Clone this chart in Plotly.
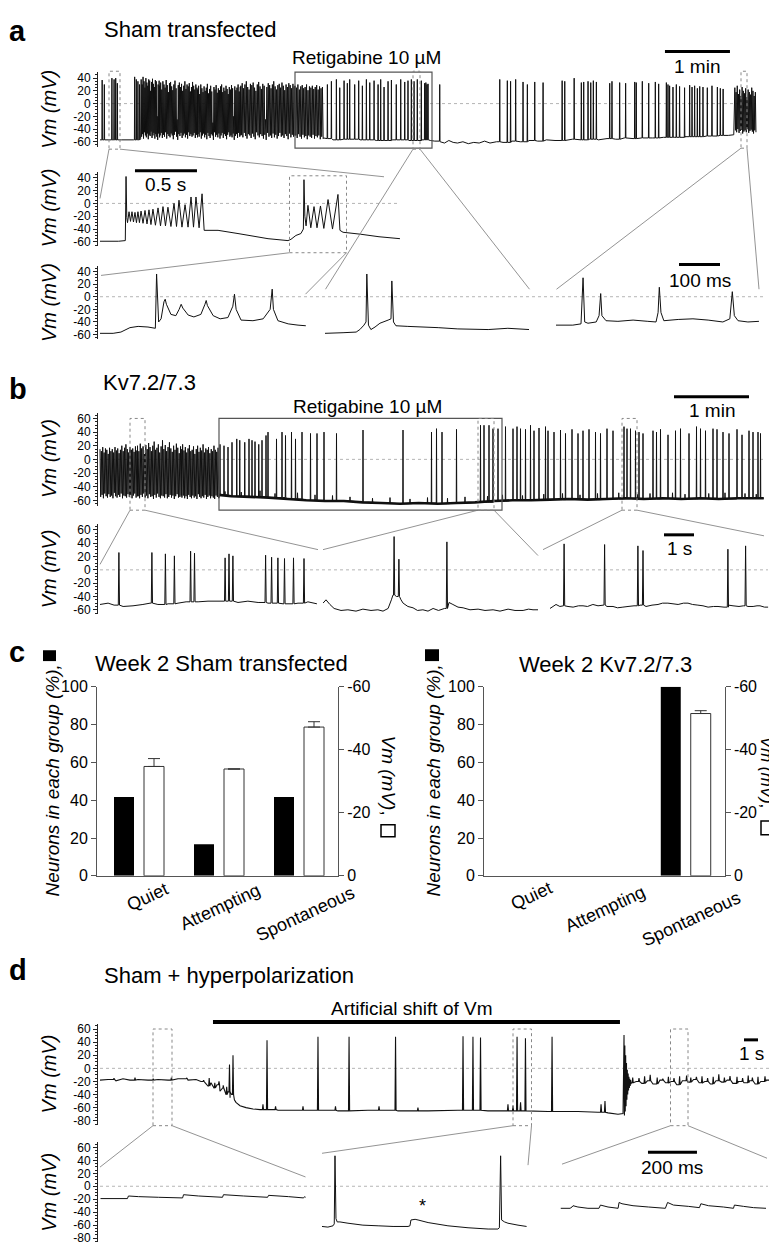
import numpy as np
import plotly.graph_objects as go

W, H = 777, 1248
FONT = "Liberation Sans, Arial, Helvetica, sans-serif"
NARROW = "Liberation Sans Narrow, Arial Narrow, Liberation Sans, Arial, sans-serif"

# =============================== DATA =====================================
# ---- (a) top trace: Sham transfected, time [s], Vm [mV]
A1_baseline = [(0, -57), (20, -57), (31, -57), (37.5, -55), (206, -55), (215, -57), (225, -56),
               (240, -57), (255, -58), (270, -57), (285, -58), (297, -57), (305, -58), (309, -59),
               (314, -60), (318, -62), (322, -58), (326, -61), (330, -62), (335, -60), (340, -63),
               (345, -61), (350, -62), (355, -59), (360, -62), (366, -60), (372, -61), (380, -59),
               (388, -60), (396, -58), (404, -59), (412, -57), (420, -58), (428, -58), (436, -56),
               (444, -57), (452, -56), (460, -57), (468, -55), (476, -56), (484, -54), (492, -55),
               (500, -54), (510, -54), (520, -53), (530, -53), (540, -52), (550, -52), (560, -51),
               (570, -50), (580, -50), (585, -49)]
A1_spikes_early = [(2, 37), (4, 30), (11, 40), (13, 38), (14.5, 40), (16, 32),
                   (32, 42), (33.5, 38), (35, 35), (36.5, 30)]
A1_spikes_retig = [(209.9, 30), (213.6, 35), (218.2, 38), (221.3, 25), (225.3, 36), (228.3, 32),
                   (230.5, 38), (235.1, 30), (238.8, 36), (242.2, 28), (245.9, 38), (249, 33),
                   (253, 36), (256.7, 30), (259.1, 38), (262.2, 26), (265.9, 35), (269, 37),
                   (273.5, 30), (277.6, 38), (281.3, 34), (284.3, 36), (287.4, 38), (289.9, 35),
                   (292.9, 38), (296.6, 36), (299.7, 32), (300.8, 33), (301.8, 30), (302.8, 31),
                   (313.6, 30)]
A1_spikes_late = [(369, 38), (376, 36), (379, 35), (383.7, 38), (390.5, 34), (394.5, 30),
                  (401.3, 34), (409, 33), (426.6, 36), (429, 35), (437.7, 40), (444.3, 33),
                  (446.5, 34), (450.5, 35), (453, 33), (455.4, 36), (458.2, 34), (470.5, 32),
                  (472.6, 35), (479.7, 33), (485.2, 32), (493.6, 34), (495, 33), (500.6, 35),
                  (506.5, 32), (512.6, 34), (515.7, 31), (522.8, 33), (524.3, 30), (525.8, 28),
                  (528.9, 26), (532, 30), (535, 27), (539.6, 25), (544.3, 29), (546.5, 26),
                  (548.9, 28), (551.4, 24), (553.6, 27), (556.6, 26), (560.6, 25), (564.9, 28),
                  (569.9, 26), (572.6, 24), (575.2, 23)]
A1_burst_spans = [(38, 55), (55, 90), (90, 130), (130, 180), (180, 206), (586, 605.5)]
A1_peaks_1 = [38, 30, 42, 35, 25, 40, 33, 28, 38, 36, 20, 34, 39, 31, 26, 37, 35, -20, 30, 36]
A1_troughs_1 = [-52, -48, -55, -45, -50, -53, -47, -56, -49, -51, -44, -54, -50, -46, -55, -48, -52, -57, -47, -53]
A1_peaks_2 = [28, 33, 22, 35, 30, 25, 37, 29, 18, 32, 34, 27, 21, 30, 36, 24, -25, 29, 33, 26,
              31, 20, 28, 35, 23, 30, 27, 32, 19, 26, 34, 28, 22, 30, 25]
A1_troughs_2 = [-50, -46, -54, -49, -52, -45, -55, -48, -51, -53, -47, -50, -56, -49, -44, -52, -57, -48, -51, -46,
                -54, -50, -47, -53, -49, -55, -45, -51, -48, -52, -50, -46, -54, -49, -53]
A1_peaks_3 = [22, 28, 15, 30, 24, 18, 27, 20, 25, 31, 16, 23, 28, 19, -30, 26, 22, 29, 17, 24,
              21, 27, 30, 18, 25, 20, 28, 23, 15, 26, 22, 29, 24, -20, 27, 21, 25, 30, 19, 26]
A1_troughs_3 = [-48, -52, -45, -55, -50, -47, -53, -49, -56, -46, -51, -54, -48, -50, -57, -45, -52, -49, -53, -47,
                -55, -50, -46, -54, -48, -51, -56, -49, -45, -52, -50, -53, -47, -57, -51, -48, -54, -46, -52, -50]
A1_peaks_4 = [28, 32, 24, 30, 35, 26, 22, 31, 29, 33, 25, 20, 30, 34, 27, 23, 31, 28, -25, 26,
              32, 29, 24, 30, 35, 27, 22, 29, 31, 25, 33, 28, 21, 30, 26, 32, 29, 24, 31, 27]
A1_troughs_4 = [-49, -53, -46, -51, -55, -48, -50, -54, -47, -52, -56, -45, -50, -53, -48, -51, -55, -49, -57, -46,
                -52, -50, -54, -47, -53, -49, -55, -51, -46, -52, -50, -54, -48, -51, -56, -47, -53, -49, -52, -50]
A1_peaks_5 = [28, 25, 30, 22, 27, 29, 24, 26, 30, 21, 27, 25, 28, 23, 26, 29, 22, 27, 24, 26]
A1_troughs_5 = [-50, -54, -48, -52, -55, -49, -53, -51, -56, -50, -52, -54, -49, -55, -51, -53, -50, -56, -52, -54]
A1_peaks_6 = [25, 18, 28, 15, 22, 12, 26, 20, 16, 24, 10, 22, 18, 14, 25, 20, 12, 18]
A1_troughs_6 = [-42, -45, -40, -46, -43, -41, -47, -44, -42, -45, -40, -46, -43, -41, -44, -47, -42, -45]

# ---- (a) middle trace, time [ms]
A2_points = [(0, -59), (150, -59), (204, -58), (210, 42), (216, -22), (222, -30), (234, -13), (246, -28),
             (258, -13), (270, -29), (282, -14), (294, -30), (306, -13), (318, -30), (331, -12), (347, -31),
             (363, -11), (379, -32), (395, -10), (411, -33), (427, -9), (447, -34), (468, -7), (488, -35),
             (508, -5), (528, -35), (548, -6), (572, -36), (597, 0), (617, -36), (637, 5), (661, -37),
             (686, -2), (710, -37), (734, 10), (754, -37), (774, 10), (799, -38), (823, 15), (840, -42),
             (952, -42), (1113, -47), (1355, -55), (1516, -58), (1540, -56), (1580, -50), (1620, -47),
             (1640, -40), (1645, 37), (1652, -20), (1662, -35), (1677, -3), (1700, -38), (1726, -5),
             (1750, -38), (1778, -4), (1805, -39), (1839, 6), (1875, -40), (1919, 14), (1935, -42),
             (1960, -45), (2100, -48), (2250, -52), (2419, -55)]

# ---- (a) bottom traces, three 500 ms windows, time [ms]
A3_seg1 = [(0, -58), (32, -58), (51, -56), (73, -49), (93, -47), (117, -48), (135, -50), (138, 36),
           (143, -40), (149, -35), (156, -8), (159, -4), (162, -12), (173, -28), (185, -30), (193, -20),
           (198, -12), (202, -18), (215, -29), (229, -32), (246, -28), (256, -12), (259, -6), (262, -14),
           (276, -30), (293, -35), (312, -33), (324, -15), (328, 4), (332, -20), (344, -37), (373, -38),
           (398, -35), (415, -20), (420, 12), (423, -20), (434, -38), (459, -43), (483, -45), (502, -46)]
A3_seg2 = [(0, -58), (44, -57), (76, -56), (85, -52), (95, -45), (100, -40), (102, 36), (106, -45),
           (112, -52), (122, -48), (134, -42), (154, -37), (161, -35), (163, 25), (167, -40), (173, -46),
           (202, -47), (276, -49), (324, -51), (398, -52), (446, -50), (498, -52)]
A3_seg3 = [(0, -45), (41, -45), (61, -43), (66, 30), (70, -40), (78, -42), (98, -40), (105, -30),
           (109, 5), (112, -30), (122, -38), (151, -39), (188, -37), (224, -39), (244, -40), (249, -25),
           (252, 15), (256, -25), (263, -38), (298, -36), (334, -35), (371, -37), (407, -40), (424, -35),
           (430, 8), (435, -30), (444, -38), (468, -40), (495, -39)]

# ---- (b) top trace: Kv7.2/7.3, time [s]
B1_baseline = [(95, -52), (105, -54), (120, -55), (135, -56), (150, -58), (165, -60), (180, -61),
               (195, -61), (210, -63), (225, -64), (240, -65), (255, -64), (270, -65), (285, -64),
               (300, -63), (315, -61), (330, -60), (345, -60), (360, -59), (375, -58), (390, -59),
               (405, -58), (420, -57), (435, -58), (450, -57), (465, -58), (480, -57), (495, -58),
               (510, -57), (531, -57)]
B1_spikes = [(96, 22), (99.2, 20), (102.4, 18), (105.6, 25), (109.4, 30), (111.8, 28), (115.8, 25),
             (119.2, 30), (121.6, 28), (124, 26), (127, 22), (129.6, 28), (132.8, 35), (134.4, 40),
             (141.2, 30), (145.6, 40), (148.4, 35), (153.2, 40), (156.4, 30), (161.6, 40), (168.4, 38),
             (173.6, 38), (179.2, 40), (189.2, 38), (210.4, 43), (242.4, 43), (265.2, 40), (269.2, 45),
             (273.6, 40), (285.2, 44), (304.4, 50), (307.2, 50), (311.2, 50), (314.4, 45), (318.4, 45),
             (324.4, 48), (330.4, 45), (333.6, 48), (336.4, 45), (340.4, 44), (344.4, 50), (347.2, 42),
             (351.2, 46), (356.4, 48), (358.4, 42), (363.2, 40), (368.4, 43), (372.4, 38), (377.6, 44),
             (382.4, 38), (386.4, 42), (391.2, 44), (396.4, 40), (400.4, 38), (405.6, 45), (410.4, 42),
             (419.2, 48), (421.6, 45), (424.4, 45), (428.4, 42), (431.2, 40), (434.4, 38), (442.4, 42),
             (445.2, 40), (448.4, 44), (454.4, 36), (460.4, 42), (464.4, 45), (471.2, 38), (477.2, 48),
             (480.4, 45), (484.4, 42), (490.4, 45), (493.6, 44), (498.4, 40), (503.2, 38), (509.6, 44),
             (513.6, 36), (519.2, 42), (522.4, 40), (526.4, 40), (528.4, 38)]
B1_bumps = [(100, -47), (113, -48), (128, -46), (140, -50), (158, -49), (172, -52), (186, -53),
            (200, -55), (218, -57), (232, -56), (248, -58), (262, -56), (278, -57), (292, -55),
            (310, -54), (322, -52), (338, -53), (355, -51), (370, -50), (384, -52), (398, -50),
            (415, -49), (430, -51), (440, -50), (458, -49), (468, -51), (487, -50), (500, -49),
            (516, -50), (525, -51)]
B1_burst_spans = [(0, 30), (30, 65), (65, 95)]
B1_peaks_1 = [15, 12, 18, 10, 16, 14, 8, 17, 12, 15, 10, 18, 13, 16, 9, 14, 20, 12, 17, 22,
              15, 10, 18, 14, 16, 11, 19, 13]
B1_troughs_1 = [-55, -52, -57, -50, -54, -56, -51, -55, -53, -57, -49, -54, -56, -52, -55, -50, -57, -53, -54, -56,
                -51, -55, -52, -57, -53, -50, -56, -54]
B1_peaks_2 = [20, 12, 23, 16, 19, 8, 21, 15, 24, 18, 12, 20, 26, 14, 17, 22, 10, 19, 28, 15,
              21, 12, 18, 25, 16, 11, 20, 14, 23, 17, 9, 19]
B1_troughs_2 = [-54, -57, -52, -55, -50, -56, -53, -57, -51, -55, -54, -58, -52, -56, -50, -55, -57, -53, -54, -56,
                -51, -57, -55, -52, -56, -53, -58, -54, -51, -56, -55, -53]
B1_peaks_3 = [15, 22, 13, 18, 10, 16, 21, 12, 14, 19, 8, 15, 20, 11, 17, 13, 22, 10, 16, 14,
              18, 9, 15, 12, 20, 14, 11, 17]
B1_troughs_3 = [-56, -53, -57, -54, -58, -52, -55, -57, -53, -56, -54, -58, -51, -55, -57, -54, -56, -52, -58, -55,
                -53, -57, -54, -56, -58, -53, -55, -57]

# ---- (b) bottom traces, three windows, time [s]
B2_seg1_base = [(0, -52), (0.27, -50), (0.47, -53), (0.77, -55), (1.1, -54), (1.43, -52), (1.67, -50),
                (1.93, -52), (2.27, -51), (2.6, -50), (2.87, -48), (3.27, -48), (3.6, -47), (4.0, -47),
                (4.6, -49), (4.93, -47), (5.27, -49), (5.6, -50), (6.1, -51), (6.6, -50), (6.93, -48),
                (7.23, -51)]
B2_seg1_spikes = [(0.63, 26), (1.73, 26), (2.18, 24), (2.48, 21), (3.02, 28), (3.15, 25), (4.17, 18),
                  (4.3, 24), (4.43, 21), (5.52, 22), (5.72, 19), (5.93, 18), (6.15, 17), (6.45, 18), (6.8, 17)]
B2_seg2_base = [(0, -50), (0.1, -45), (0.23, -52), (0.37, -58), (0.6, -61), (0.83, -60), (1.1, -62),
                (1.33, -59), (1.6, -61), (1.83, -60), (2.0, -62), (2.17, -58), (2.28, -45), (2.33, -38),
                (2.45, -40), (2.6, -45), (2.67, -50), (2.83, -55), (3.0, -57), (3.15, -61), (3.33, -60),
                (3.5, -62), (3.67, -58), (3.85, -61), (4.05, -58), (4.2, -49), (4.33, -52), (4.5, -56),
                (4.67, -57), (4.9, -60), (5.17, -59), (5.4, -61), (5.67, -60), (5.9, -62), (6.17, -59),
                (6.4, -61), (6.67, -61), (6.85, -59), (7.0, -60), (7.17, -60)]
B2_seg2_spikes = [(2.37, 50), (2.53, 16), (4.13, 42)]
B2_seg3_base = [(0, -58), (0.1, -55), (0.2, -52), (0.33, -55), (0.45, -54), (0.6, -55), (0.77, -56),
                (0.95, -54), (1.1, -54), (1.25, -55), (1.43, -52), (1.6, -54), (1.78, -53), (1.9, -55),
                (2.1, -55), (2.25, -57), (2.43, -56), (2.6, -55), (2.8, -54), (3.0, -53), (3.2, -55),
                (3.4, -53), (3.6, -52), (3.75, -50), (3.93, -50), (4.1, -51), (4.27, -52), (4.45, -50),
                (4.6, -50), (4.75, -52), (4.93, -53), (5.1, -54), (5.27, -56), (5.45, -55), (5.6, -55),
                (5.8, -56), (5.95, -53), (6.1, -54), (6.3, -55), (6.45, -54), (6.6, -55), (6.77, -55),
                (6.9, -54), (7.0, -54), (7.15, -56), (7.27, -56)]
B2_seg3_spikes = [(0.47, 39), (1.82, 38), (2.93, 36), (3.1, 29), (5.93, 31), (6.52, 36)]

# ---- (c) bar charts
categories = ["Quiet", "Attempting", "Spontaneous"]
sham_pct = [41.7, 16.7, 41.7]
sham_vm = [-34.7, -33.9, -47.2]
sham_vm_err = [2.5, 0.0, 1.7]
kv_pct = [0.0, 0.0, 100.0]
kv_vm = [None, None, -51.5]
kv_vm_err = [0.0, 0.0, 0.9]
pct_ticks = [0, 20, 40, 60, 80, 100]
pct_ticklabels = ["0", "20", "40", "60", "80", "100"]
vm_bar_ticks = [0, -20, -40, -60]
vm_bar_ticklabels = ["0", "-20", "-40", "-60"]

# ---- (d) top trace: Sham + hyperpolarization, time [s]
D1_baseline = [(0, -18), (0.57, -17), (1.14, -19), (1.64, -16), (2.14, -18), (2.71, -17), (3.43, -18),
               (4.14, -17), (4.86, -18), (5.57, -16), (6.29, -18), (6.86, -17), (7.21, -20), (7.5, -22),
               (7.71, -27), (7.93, -22), (8.14, -30), (8.36, -25), (8.57, -35), (8.79, -30), (9.0, -40),
               (9.14, -36), (9.29, -45), (9.4, -40), (9.6, -48), (9.71, -52), (10, -57), (10.43, -60),
               (10.93, -62), (11.43, -63), (12.71, -64), (14.86, -64), (17, -65), (19.14, -64),
               (21.29, -65), (23.43, -65), (25.57, -64), (27.71, -65), (29.86, -65), (32, -66),
               (34.14, -66), (35.57, -67), (36.29, -68), (37, -70), (37.36, -69),
               (37.95, -22), (38.3, -20), (38.7, -23), (39.1, -19), (39.5, -24), (40, -18), (40.4, -22),
               (40.8, -20), (41.2, -25), (41.6, -19), (42, -21), (42.4, -17), (42.8, -22), (43.2, -20),
               (43.6, -24), (44, -19), (44.4, -21), (44.8, -18), (45.2, -23), (45.6, -20), (46, -22),
               (46.4, -19), (46.8, -24), (47.2, -20), (47.6, -18), (48, -23), (48.4, -20), (48.86, -21)]
D1_spikes = [(9.25, 6), (9.5, 20), (11.93, 43), (15.57, 48), (17.79, 48), (21.11, 48), (25.93, 49),
             (26.64, 48), (27.18, 47), (29.79, 48), (30.39, 46), (32.29, 48)]
D1_bumps = [(1.0, -15), (2.5, -14), (3.8, -16), (5.1, -14), (6.2, -15), (7.4, -18), (7.8, -15),
            (8.2, -22), (8.5, -20), (8.8, -26), (9.05, -28),
            (11.64, -55), (12.54, -58), (14.5, -58), (16.82, -58), (19.93, -58), (22.71, -60),
            (29.14, -55), (29.5, -57), (30.04, -52), (35.79, -55), (36.07, -50),
            (38.05, -14), (38.5, -15), (38.9, -12), (39.3, -10), (39.8, -14), (40.2, -16), (40.6, -13),
            (41.0, -15), (41.4, -12), (41.9, -11), (42.2, -14), (42.6, -13), (43.0, -12), (43.4, -15),
            (43.8, -13), (44.2, -9), (44.6, -14), (45.0, -12), (45.5, -13), (45.9, -15), (46.3, -11),
            (46.6, -14), (47.0, -13), (47.5, -12), (47.9, -14), (48.2, -12), (48.5, -8)]
D1_ring_span = (37.43, 37.93)
D1_ring_peaks = [51, 35, 20, 8, -2, -8, -13, -16, -18]
D1_ring_troughs = [-72, -66, -58, -48, -40, -34, -30, -27, -24]

# ---- (d) bottom traces, three windows, time [ms]
D2_seg1 = [(0, -19), (51, -19), (110, -19), (114, -15), (155, -16), (237, -17), (335, -18), (339, -13),
           (400, -15), (498, -17), (502, -13), (584, -15), (682, -17), (686, -14), (767, -16),
           (829, -18), (833, -16), (837, -17)]
D2_seg2 = [(0, -62), (24, -63), (45, -61), (50, -58), (53, 47), (57, -50), (62, -55), (73, -55),
           (106, -57), (167, -60), (229, -61), (290, -62), (351, -62), (359, -61), (363, -52),
           (380, -51), (392, -52), (433, -56), (514, -61), (596, -64), (678, -66), (718, -66),
           (724, -64), (729, 47), (733, -52), (745, -55), (759, -57), (800, -60), (835, -62)]
D2_seg3 = [(0, -34), (39, -34), (47, -32), (51, -30), (71, -32), (112, -34), (157, -34), (163, -29),
           (194, -32), (235, -34), (239, -25), (251, -27), (296, -30), (359, -32), (428, -34),
           (437, -25), (461, -29), (522, -31), (567, -33), (573, -27), (604, -30), (665, -32),
           (706, -34), (710, -29), (747, -31), (788, -33), (839, -34)]

# tick labels for the Vm axes of the traces
A_ticks = [-60, -40, -20, 0, 20, 40]
A_ticklabels = ["-60", "-40", "-20", "0", "20", "40"]
B_ticks = [-60, -40, -20, 0, 20, 40, 60]
B_ticklabels = ["-60", "-40", "-20", "0", "20", "40", "60"]
D_ticks = [-80, -60, -40, -20, 0, 20, 40, 60]
D_ticklabels = ["-80", "-60", "-40", "-20", "0", "20", "40", "60"]


# =============================== HELPERS ==================================
def fx(px):
    return px / W


def fy(py):
    return 1 - py / H


def build(baseline, spikes=(), bursts=(), dt=0.1):
    pts = list(baseline)
    bt = [p[0] for p in baseline]
    for t, peak in spikes:
        i = max(int(np.searchsorted(bt, t, side="right")) - 1, 0)
        foot = baseline[i][1]
        pts += [(t - dt, foot), (t, peak), (t + dt, foot)]
    for (t0, t1), peaks, troughs in bursts:
        n = min(len(peaks), len(troughs))
        ts = np.linspace(t0, t1, 2 * n)
        for k in range(n):
            pts.append((float(ts[2 * k]), peaks[k]))
            pts.append((float(ts[2 * k + 1]), troughs[k]))
    pts.sort(key=lambda p: p[0])
    return [p[0] for p in pts], [p[1] for p in pts]


def unzip(points):
    return [p[0] for p in points], [p[1] for p in points]


def ref(kind, n):
    return kind if n == 1 else f"{kind}{n}"


def key(kind, n):
    return f"{kind}axis" if n == 1 else f"{kind}axis{n}"


fig = go.Figure()


def add_line(xs, ys, xn, yn, width=1.0, color="#111"):
    fig.add_trace(go.Scatter(x=xs, y=ys, xaxis=ref("x", xn), yaxis=ref("y", yn), mode="lines",
                             line=dict(color=color, width=width, simplify=False),
                             hoverinfo="skip", showlegend=False))


layout = dict(width=W, height=H, margin=dict(l=0, r=0, t=0, b=0),
              paper_bgcolor="white", plot_bgcolor="rgba(0,0,0,0)",
              showlegend=False, barmode="overlay", font=dict(family=FONT, color="black"))

# x axes for traces: n -> (dom_l, dom_r, px at t=0, px per unit, y anchor)
XA = {1: (90, 750, 92, 65 / 60, 1), 2: (90, 392, 92, 0.124, 2),
      3: (90, 298, 92, 0.41, 3), 4: (317, 521, 317, 0.41, 3), 5: (548, 756, 548, 0.41, 3),
      6: (90, 757, 92, 1.25, 4),
      7: (90, 309, 92, 30, 5), 8: (315, 530, 315, 30, 5), 9: (542, 761, 542, 30, 5),
      12: (90, 777, 92, 14, 10),
      13: (90, 298, 92.5, 0.245, 11), 14: (314, 519, 314, 0.245, 11), 15: (552.5, 758, 552.5, 0.245, 11)}
for n, (l, r, p0, k, yn) in XA.items():
    layout[key("x", n)] = dict(domain=[fx(l), fx(r)], range=[(l - p0) / k, (r - p0) / k],
                               anchor=ref("y", yn), visible=False, fixedrange=True)

# y axes for traces: n -> (top px, bottom px, ref1, ref2, x anchor, ticks, labels)
YA = {1: (57, 133, (40, 63), (-60, 127.5), 1, A_ticks, A_ticklabels),
      2: (158, 233, (40, 164), (-60, 229), 2, A_ticks, A_ticklabels),
      3: (253, 327, (40, 259), (-60, 323), 3, A_ticks, A_ticklabels),
      4: (402, 497, (60, 408), (-60, 491), 6, B_ticks, B_ticklabels),
      5: (515, 606, (60, 521), (-60, 602), 7, B_ticks, B_ticklabels),
      10: (1022, 1124, (60, 1027), (-80, 1120), 12, D_ticks, D_ticklabels),
      11: (1142, 1243, (60, 1147), (-80, 1239), 13, D_ticks, D_ticklabels)}
for n, (top, bot, (v1, p1), (v2, p2), xn, tv, tt) in YA.items():
    kk = (p2 - p1) / (v1 - v2)
    layout[key("y", n)] = dict(domain=[fy(bot), fy(top)], range=[v2 - (bot - p2) / kk, v1 + (p1 - top) / kk],
                               anchor=ref("x", xn), showline=True, linecolor="#222", linewidth=1,
                               ticks="outside", ticklen=4, tickwidth=1, tickcolor="#222",
                               tickvals=tv, ticktext=tt, showgrid=False, zeroline=False,
                               tickfont=dict(family=NARROW, size=12, color="black"),
                               minor=dict(dtick=5, ticklen=2, ticks="outside", tickcolor="#222"),
                               fixedrange=True)

# bar chart axes
for xn, yl, yr, l, r in [(10, 6, 7, 89, 330), (11, 8, 9, 476, 716.7)]:
    layout[key("x", xn)] = dict(domain=[fx(l), fx(r)], range=[-0.525, 2.4875], anchor=ref("y", yl),
                                showline=True, linecolor="#555", linewidth=1, ticks="",
                                showticklabels=False, showgrid=False, zeroline=False, fixedrange=True)
    layout[key("y", yl)] = dict(domain=[fy(871.7), fy(680)], range=[0, 100], anchor=ref("x", xn),
                                showline=True, linecolor="#555", linewidth=1, ticks="outside", ticklen=5,
                                tickcolor="#555", tickvals=pct_ticks, ticktext=pct_ticklabels,
                                tickfont=dict(family=FONT, size=16, color="black"),
                                showgrid=False, zeroline=False, fixedrange=True)
    layout[key("y", yr)] = dict(overlaying=ref("y", yl), side="right", range=[0, -60], anchor=ref("x", xn),
                                showline=True, linecolor="#555", linewidth=1, ticks="outside", ticklen=5,
                                tickcolor="#555", tickvals=vm_bar_ticks, ticktext=vm_bar_ticklabels,
                                tickfont=dict(family=FONT, size=16, color="black"),
                                showgrid=False, zeroline=False, fixedrange=True)

# =============================== TRACES ===================================
A1_bursts = list(zip(A1_burst_spans,
                     [A1_peaks_1, A1_peaks_2, A1_peaks_3, A1_peaks_4, A1_peaks_5, A1_peaks_6],
                     [A1_troughs_1, A1_troughs_2, A1_troughs_3, A1_troughs_4, A1_troughs_5, A1_troughs_6]))
xs, ys = build(A1_baseline, A1_spikes_early + A1_spikes_retig + A1_spikes_late, A1_bursts, dt=0.25)
add_line(xs, ys, 1, 1, width=1.0)

add_line(*unzip(A2_points), 2, 2, width=1.0)
for seg, xn in [(A3_seg1, 3), (A3_seg2, 4), (A3_seg3, 5)]:
    add_line(*unzip(seg), xn, 3, width=1.0)

B1_bursts = list(zip(B1_burst_spans, [B1_peaks_1, B1_peaks_2, B1_peaks_3],
                     [B1_troughs_1, B1_troughs_2, B1_troughs_3]))
add_line(*unzip(B1_baseline), 6, 4, width=2.6)
xs, ys = build(B1_baseline, B1_spikes + B1_bumps, B1_bursts, dt=0.2)
add_line(xs, ys, 6, 4, width=1.0)

for base, spk, xn in [(B2_seg1_base, B2_seg1_spikes, 7), (B2_seg2_base, B2_seg2_spikes, 8),
                      (B2_seg3_base, B2_seg3_spikes, 9)]:
    xs, ys = build(base, spk, (), dt=0.02)
    add_line(xs, ys, xn, 5, width=1.0)

xs, ys = build(D1_baseline, D1_spikes + D1_bumps, [(D1_ring_span, D1_ring_peaks, D1_ring_troughs)], dt=0.04)
add_line(xs, ys, 12, 10, width=1.1)
for seg, xn in [(D2_seg1, 13), (D2_seg2, 14), (D2_seg3, 15)]:
    add_line(*unzip(seg), xn, 11, width=1.0)

# bars
xpos = list(range(len(categories)))
for xn, yl, yr, pct, vm, err in [(10, 6, 7, sham_pct, sham_vm, sham_vm_err),
                                 (11, 8, 9, kv_pct, kv_vm, kv_vm_err)]:
    fig.add_trace(go.Bar(x=xpos, y=pct, xaxis=ref("x", xn), yaxis=ref("y", yl), width=0.25,
                         offset=-0.3125, marker=dict(color="black", line=dict(width=0)),
                         hoverinfo="skip", showlegend=False))
    fig.add_trace(go.Bar(x=xpos, y=vm, xaxis=ref("x", xn), yaxis=ref("y", yr), width=0.25,
                         offset=0.0625, marker=dict(color="white", line=dict(color="#333", width=1)),
                         error_y=dict(type="data", symmetric=False, array=[0] * len(err), arrayminus=err,
                                      color="#333", thickness=1, width=6),
                         hoverinfo="skip", showlegend=False))

# =============================== SHAPES ===================================
shapes = []


def pseg(x0, y0, x1, y1, color="#777", w=0.8, dash="solid"):
    shapes.append(dict(type="line", xref="paper", yref="paper", x0=fx(x0), y0=fy(y0), x1=fx(x1), y1=fy(y1),
                       line=dict(color=color, width=w, dash=dash)))


def prect(x0, y0, x1, y1, color="#777", w=1, dash="solid", fill="rgba(0,0,0,0)"):
    shapes.append(dict(type="rect", xref="paper", yref="paper", x0=fx(x0), y0=fy(y1), x1=fx(x1), y1=fy(y0),
                       line=dict(color=color, width=w, dash=dash), fillcolor=fill))


# zero-mV dotted guides
for yn, a, b in [(1, 92, 748), (2, 92, 392), (3, 92, 756), (4, 92, 756), (5, 92, 760), (10, 92, 776), (11, 92, 760)]:
    shapes.append(dict(type="line", xref="paper", yref=ref("y", yn), x0=fx(a), x1=fx(b), y0=0, y1=0,
                       layer="below", line=dict(color="#b5b5b5", width=1, dash="dot")))

# drug application boxes
prect(287, 57, 424, 134, color="#555", w=1.2)
prect(211, 408, 494, 501, color="#555", w=1.2)
# dotted zoom boxes
for x0, y0, x1, y1 in [(101, 56, 112, 135), (405, 56, 412, 135), (733, 56, 739, 134), (281.5, 162, 338.5, 240),
                       (122, 408, 137, 501), (470, 408, 486, 501), (614, 408, 629, 501),
                       (145, 1027, 164, 1125), (505, 1027, 523.5, 1125), (662.5, 1027, 680, 1125)]:
    prect(x0, y0, x1, y1, color="#888", w=1, dash="dot")
# connecting lines
for seg in [(101, 135, 92, 185), (112, 135, 376, 163), (281.5, 240, 93, 263), (338.5, 240, 297.5, 282),
            (405, 135, 317.5, 277), (412, 135, 521.5, 277), (733, 134, 548.5, 277), (739, 134, 751, 277),
            (122, 501, 92, 556), (137, 501, 310, 541), (470, 501, 315, 541), (486, 501, 530, 547),
            (614, 501, 535, 541), (629, 501, 756, 527),
            (145, 1125, 92, 1167), (164, 1125, 297.5, 1177), (505, 1125, 314, 1153), (523.5, 1125, 520, 1165),
            (662.5, 1125, 554, 1164), (680, 1125, 759, 1158)]:
    pseg(*seg)

# scale bars (in data units of their axes)
annotations = []
for xn, t0, t1, py, label, ty in [(1, 521.5, 581.5, 36, "1 min", 51.5), (2, 282, 782, 157, "0.5 s", 171),
                                  (5, 300, 400, 252, "100 ms", 268), (6, 459.2, 519.2, 386, "1 min", 400),
                                  (9, 3.8, 4.8, 526, "1 s", 540), (12, 46, 47, 1038, "1 s", 1052),
                                  (15, 357, 557, 1152, "200 ms", 1167)]:
    shapes.append(dict(type="line", xref=ref("x", xn), yref="paper", x0=t0, x1=t1, y0=fy(py), y1=fy(py),
                       line=dict(color="black", width=3)))
    annotations.append(dict(x=(t0 + t1) / 2, y=fy(ty), xref=ref("x", xn), yref="paper", text=label,
                            showarrow=False, xanchor="center", yanchor="middle",
                            font=dict(family=FONT, size=19, color="black")))
# artificial shift bar
shapes.append(dict(type="line", xref="x12", yref="paper", x0=8.07, x1=37.14, y0=fy(1020), y1=fy(1020),
                   line=dict(color="black", width=4)))

# legend squares for panel c
prect(35, 643, 48, 654, color="black", w=0, fill="black")
prect(417, 642, 431, 654, color="black", w=0, fill="black")
prect(373, 820, 387, 832, color="black", w=1.5)
prect(753, 816, 765, 830, color="black", w=1.5)

layout["shapes"] = shapes


# =============================== TEXT =====================================
def ptext(x, y, text, size, xanchor="center", yanchor="middle", angle=0):
    annotations.append(dict(x=fx(x), y=fy(y), xref="paper", yref="paper", text=text, showarrow=False,
                            xanchor=xanchor, yanchor=yanchor, textangle=angle,
                            font=dict(family=FONT, size=size, color="black")))


for letter, y in [("a", 15), ("b", 378), ("c", 645), ("d", 967)]:
    ptext(-1, y, f"<b>{letter}</b>", 29, xanchor="left")
ptext(94, 14, "Sham transfected", 22, xanchor="left")
ptext(93, 372, "Kv7.2/7.3", 22, xanchor="left")
ptext(94, 973, "Sham + hyperpolarization", 22, xanchor="left")
ptext(358, 42.5, "Retigabine 10 µM", 19)
ptext(359.5, 396, "Retigabine 10 µM", 19)
ptext(404, 1006, "Artificial shift of Vm", 19)
ptext(414, 1206, "*", 18)
for y in [95, 195, 291, 449, 561, 1073, 1193]:
    ptext(41, y, "<i>Vm (mV)</i>", 20, angle=-90)

ptext(213, 656, "Week 2 Sham transfected", 22)
ptext(597.5, 657, "Week 2 Kv7.2/7.3", 22)
ptext(44, 775, "<i>Neurons in each group (%),</i>", 19, angle=-90)
ptext(425, 775, "<i>Neurons in each group (%),</i>", 19, angle=-90)
ptext(380, 770, "<i>Vm (mV)</i>,", 19, angle=90)
ptext(758, 767, "<i>Vm (mV)</i>,", 17, angle=90)
for (cx, cy), name in zip([(139, 893), (212, 903), (297, 910)], categories):
    ptext(cx, cy, name, 18, angle=-25)
for (cx, cy), name in zip([(523, 892), (597, 905), (683, 915)], categories):
    ptext(cx, cy, name, 18, angle=-25)

layout["annotations"] = annotations
fig.update_layout(**layout)
fig.write_html("out.html")
